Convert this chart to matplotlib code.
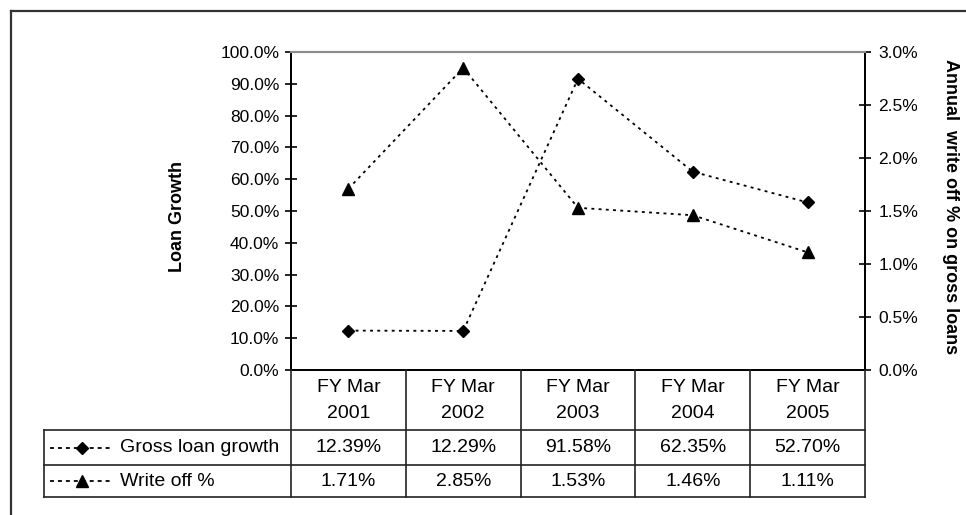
import matplotlib
matplotlib.use("Agg")
import matplotlib.pyplot as plt
from matplotlib.lines import Line2D
from matplotlib.ticker import FuncFormatter

plt.rcParams['font.family'] = ['Liberation Sans', 'DejaVu Sans']

cat_line1 = ["FY Mar"] * 5
cat_line2 = ["2001", "2002", "2003", "2004", "2005"]
gross_loan_growth = [12.39, 12.29, 91.58, 62.35, 52.70]
write_off = [1.71, 2.85, 1.53, 1.46, 1.11]
series_names = ["Gross loan growth", "Write off %"]
left_label = "Loan Growth"
right_label = "Annual  write off % on gross loans"

W, H = 966, 515
fig = plt.figure(figsize=(W / 100, H / 100), dpi=100)

def fx(px):
    return px / W

def fy(py):
    return 1 - py / H

# plot area in pixels
L, R, T, B = 291, 865, 52, 370
ax = fig.add_axes([fx(L), fy(B), fx(R) - fx(L), fy(T) - fy(B)])
ax2 = ax.twinx()

n = len(cat_line2)
x = list(range(n))
ls = (0, (1.6, 2.4))
ax.plot(x, gross_loan_growth, linestyle=ls, color='black', lw=1.3,
        marker='D', markersize=6.5, zorder=3)
ax2.plot(x, write_off, linestyle=ls, color='black', lw=1.3,
         marker='^', markersize=8.5, zorder=3)

ax.set_xlim(-0.5, n - 0.5)
ax.set_ylim(0, 100)
ax2.set_ylim(0, 3.0)
ax.set_yticks([i * 10 for i in range(11)])
ax2.set_yticks([i * 0.5 for i in range(7)])
ax.yaxis.set_major_formatter(FuncFormatter(lambda v, p: f"{v:.1f}%"))
ax2.yaxis.set_major_formatter(FuncFormatter(lambda v, p: f"{v:.1f}%"))
ax.set_xticks([])
ax2.set_xticks([])
for a in (ax, ax2):
    a.tick_params(axis='y', direction='inout', length=9, width=1.2,
                  labelsize=12.5, color='black')
    for s in a.spines.values():
        s.set_linewidth(1.3)
        s.set_color('black')
    a.spines['top'].set_color('#8c8c8c')
    a.spines['top'].set_linewidth(1.5)
ax.tick_params(axis='y', pad=4)
ax2.tick_params(axis='y', pad=5)

fig.text(fx(178), fy(217), left_label, rotation=90, ha='center', va='center',
         fontsize=13, fontweight='bold')
fig.text(fx(951), fy(207), right_label, rotation=-90, ha='center', va='center',
         fontsize=13, fontweight='bold')

# outer border (chart area)
lc = '#333333'
fig.add_artist(Line2D([fx(11), fx(W + 5)], [fy(11), fy(11)], color=lc, lw=1.6))
fig.add_artist(Line2D([fx(11), fx(11)], [fy(11), fy(H + 5)], color=lc, lw=1.6))

# data table
col_w = (R - L) / n
row_y = [B, 430, 465, 497]
tc = '#222222'
tlw = 1.2
for yy in row_y[1:]:
    fig.add_artist(Line2D([fx(44), fx(R)], [fy(yy), fy(yy)], color=tc, lw=tlw))
for i in range(n + 1):
    xx = L + i * col_w
    fig.add_artist(Line2D([fx(xx), fx(xx)], [fy(B), fy(row_y[3])], color=tc, lw=tlw))
fig.add_artist(Line2D([fx(44), fx(44)], [fy(row_y[1]), fy(row_y[3])], color=tc, lw=tlw))

fs = 14
for i in range(n):
    cx = L + (i + 0.5) * col_w
    fig.text(fx(cx), fy(387), cat_line1[i], ha='center', va='center', fontsize=fs)
    fig.text(fx(cx), fy(413), cat_line2[i], ha='center', va='center', fontsize=fs)
    fig.text(fx(cx), fy(448), f"{gross_loan_growth[i]:.2f}%", ha='center', va='center', fontsize=fs)
    fig.text(fx(cx), fy(481), f"{write_off[i]:.2f}%", ha='center', va='center', fontsize=fs)

# legend keys
for yy, mk, ms, name in [(448, 'D', 6, series_names[0]), (481, '^', 8, series_names[1])]:
    fig.add_artist(Line2D([fx(50), fx(113)], [fy(yy), fy(yy)], color='black',
                          lw=1.3, linestyle=(0, (2.2, 2.2))))
    fig.add_artist(Line2D([fx(82)], [fy(yy)], color='black', marker=mk,
                          markersize=ms, linestyle='none'))
    fig.text(fx(120), fy(yy), name, ha='left', va='center', fontsize=fs)

fig.savefig("out.png", dpi=100)
